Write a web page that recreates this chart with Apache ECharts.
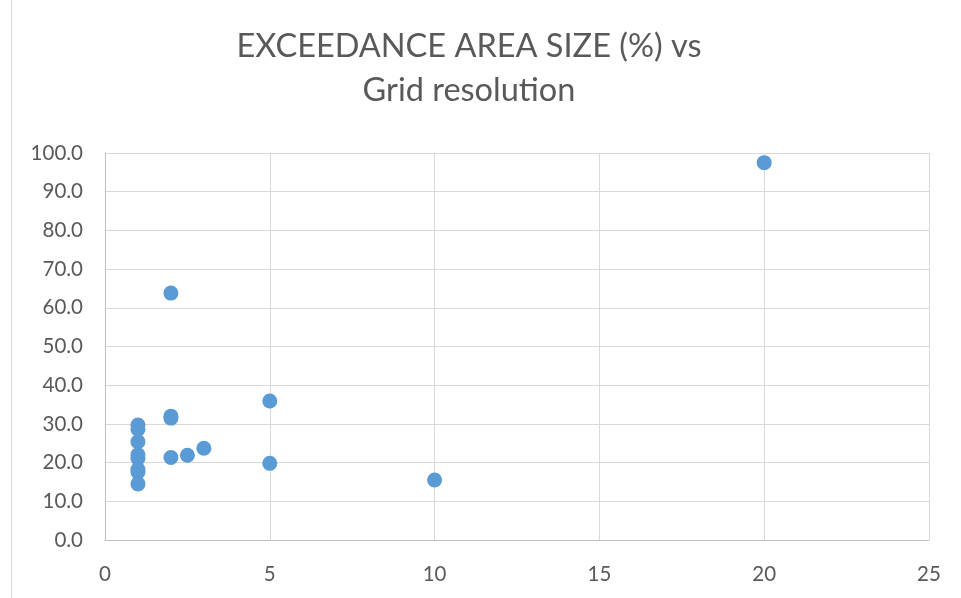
<!DOCTYPE html>
<html><head><meta charset="utf-8">
<script src="https://cdn.jsdelivr.net/npm/echarts@6/dist/echarts.min.js"></script>
<style>html,body{margin:0;padding:0;background:#fff}#c{width:961px;height:598px}</style>
</head><body><div id="c"></div>
<script>
const titleText = "EXCEEDANCE AREA SIZE (%) vs\nGrid resolution";
const xValues = [1, 1, 1, 1, 1, 1, 1, 1, 2, 2, 2, 2, 2.5, 3, 5, 5, 10, 20];
const yValues = [29.7, 28.6, 25.4, 22.0, 21.1, 18.2, 17.6, 14.5, 63.8, 32.0, 31.5, 21.3, 21.9, 23.7, 35.9, 19.8, 15.5, 97.5];
const xTicks = [0, 5, 10, 15, 20, 25];
const yTicks = [0, 10, 20, 30, 40, 50, 60, 70, 80, 90, 100];

const font = "Lato";
const chart = echarts.init(document.getElementById('c'), null, {renderer: 'canvas'});
chart.setOption({
  animation: false,
  backgroundColor: '#fff',
  title: {
    text: titleText,
    left: 464, top: 20, textAlign: 'center',
    textStyle: {fontFamily: font, fontSize: 32.5, fontWeight: 'normal', color: '#595959', lineHeight: 44}
  },
  grid: {left: 105, right: 32, top: 153, bottom: 58, containLabel: false},
  xAxis: {
    type: 'value', min: xTicks[0], max: xTicks[xTicks.length - 1], interval: 5,
    axisLine: {show: true, onZero: false, lineStyle: {color: '#bfbfbf', width: 1}},
    axisTick: {show: false},
    axisLabel: {fontFamily: font, fontSize: 20.5, color: '#595959', margin: 24},
    splitLine: {show: true, lineStyle: {color: '#d9d9d9', width: 1}}
  },
  yAxis: {
    type: 'value', min: yTicks[0], max: yTicks[yTicks.length - 1], interval: 10,
    axisLine: {show: true, lineStyle: {color: '#bfbfbf', width: 1}},
    axisTick: {show: false},
    axisLabel: {fontFamily: font, fontSize: 20.5, color: '#595959', margin: 22,
      formatter: v => v.toFixed(1)},
    splitLine: {show: true, lineStyle: {color: '#d9d9d9', width: 1}}
  },
  series: [{
    type: 'scatter',
    symbol: 'circle',
    symbolSize: 15,
    itemStyle: {color: '#5b9bd5', opacity: 1},
    data: xValues.map((x, i) => [x, yValues[i]])
  }],
  graphic: [{
    type: 'line', shape: {x1: 11.5, y1: 0, x2: 11.5, y2: 598},
    style: {stroke: '#d9d9d9', lineWidth: 1}
  }]
});
</script></body></html>
